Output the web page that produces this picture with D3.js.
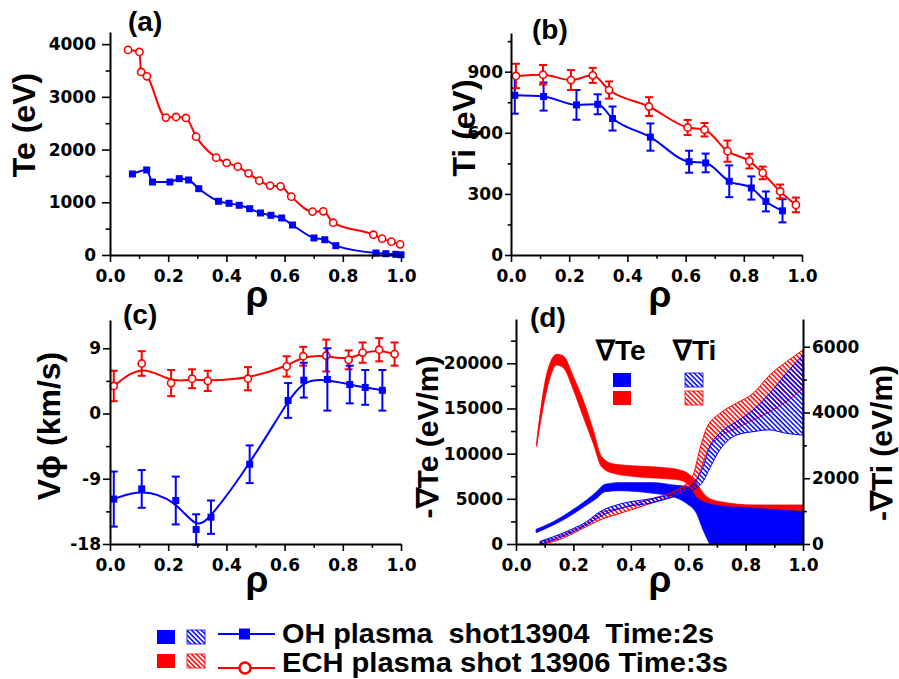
<!DOCTYPE html>
<html>
<head>
<meta charset="utf-8">
<script src="https://cdn.jsdelivr.net/npm/d3@7"></script>
<style>
  body { margin: 0; background: #fff; }
  svg { display: block; }
</style>
</head>
<body>
<svg id="fig" width="899" height="679"></svg>
<script>
// ---------- data ----------
// (a) electron temperature profiles
const rhoTeOH  = [0.077,0.126,0.146,0.206,0.238,0.270,0.305,0.373,0.409,0.444,0.480,0.517,0.553,0.590,0.627,0.701,0.738,0.776,0.914,0.948,0.982,1.0];
const teOH     = [1537,1613,1385,1385,1448,1423,1258,1019,981,943,879,797,753,702,569,323,290,177,38,25,13,5];
const rhoTeECH = [0.062,0.101,0.107,0.127,0.192,0.227,0.261,0.296,0.365,0.401,0.439,0.476,0.513,0.550,0.586,0.623,0.696,0.733,0.767,0.905,0.935,0.967,0.997];
const teECH    = [3890,3852,3472,3390,2606,2618,2600,2245,1847,1746,1676,1550,1410,1316,1303,1107,823,829,613,385,310,253,202];

// (b) ion temperature profiles with error bars
const rhoTiOH   = [0.013,0.112,0.225,0.298,0.349,0.479,0.612,0.669,0.750,0.826,0.876,0.933];
const tiOH      = [784,778,737,740,670,579,458,452,362,329,263,217];
const tiOHErr   = [90,69,73,49,59,67,54,46,78,57,49,57];
const rhoTiECH  = [0.017,0.110,0.206,0.281,0.337,0.474,0.607,0.665,0.744,0.819,0.865,0.925,0.979];
const tiECH     = [879,885,859,882,810,729,626,615,510,461,403,312,246];
const tiECHErr  = [60,48,49,37,42,46,37,33,52,36,31,34,36];

// (c) toroidal rotation profiles with error bars
const rhoVOH   = [0.013,0.109,0.226,0.296,0.347,0.480,0.612,0.666,0.747,0.824,0.877,0.936];
const vOH      = [-11.8,-10.4,-12.0,-16.0,-14.3,-7.0,1.8,4.6,4.7,4.0,3.6,3.2];
const vOHErr   = [3.8,2.6,3.3,2.1,2.3,2.6,2.4,2.4,4.3,2.6,2.4,2.8];
const rhoVECH  = [0.013,0.109,0.210,0.282,0.336,0.474,0.607,0.664,0.743,0.820,0.868,0.925,0.978];
const vECH     = [3.8,6.9,4.2,4.8,4.5,4.8,6.5,7.9,8.0,7.4,8.4,8.8,8.2];
const vECHErr  = [2.1,1.7,1.8,1.3,1.4,1.6,1.4,1.3,2.2,1.3,1.4,1.6,1.6];

// (d) gradient bands: upper / lower envelopes
const rhoGTeECH = [0.072,0.107,0.142,0.165,0.200,0.234,0.269,0.298,0.339,0.420,0.500,0.570,0.606,0.629,0.664,0.710,0.826,1.0];
const gTeECHHi  = [11300,18800,21000,20800,18520,15940,12620,9670,8860,8630,8490,8190,7640,6720,5240,4690,4320,4320];
const gTeECHLo  = [10800,17000,19800,19500,17050,14100,11140,8560,7820,7450,7270,7080,6350,5240,4610,4320,4060,3690];
const rhoGTeOH  = [0.070,0.130,0.188,0.246,0.281,0.310,0.362,0.478,0.548,0.594,0.629,0.652,0.675,0.710,0.826,1.0];
const gTeOHHi   = [1620,2470,3580,4870,5790,6600,6790,6790,6530,6350,5980,5240,4690,4320,4130,3690];
const gTeOHLo   = [1250,2100,3100,4320,5050,5790,5900,5610,5240,4500,3390,1550,0,-1500,-1500,-1500];
const rhoGTiECH = [0.084,0.130,0.188,0.246,0.292,0.362,0.478,0.570,0.617,0.640,0.664,0.710,0.768,0.826,0.884,0.942,1.0];
const gTiECHHi  = [70,170,375,630,930,1085,1390,1690,2100,2860,3520,3970,4280,4580,5140,5540,5900];
const gTiECHLo  = [0,70,275,530,730,930,1260,1560,1740,2150,2760,3260,3520,3770,4020,4330,4730];
const rhoGTiOH  = [0.084,0.130,0.188,0.246,0.292,0.362,0.478,0.570,0.617,0.652,0.675,0.710,0.768,0.826,0.884,0.942,1.0];
const gTiOHHi   = [80,220,425,680,980,1215,1390,1590,1845,2350,2960,3365,3720,4075,4580,5190,5750];
const gTiOHLo   = [0,120,325,580,830,1085,1260,1490,1640,1900,2300,2860,3310,3415,3470,3365,3310];

// tick values
const rhoMajor = [0,0.2,0.4,0.6,0.8,1.0];
const rhoMinor = [0.1,0.3,0.5,0.7,0.9];
const teMajor = [0,1000,2000,3000,4000];
const teMinor = [500,1500,2500,3500];
const tiMajor = [0,300,600,900];
const tiMinor = [150,450,750,1050];
const vMajor = [-18,-9,0,9];
const vMinor = [-13.5,-4.5,4.5];
const gTeMajor = [0,5000,10000,15000,20000];
const gTeMinor = [2500,7500,12500,17500,22500];
const gTiMajor = [0,2000,4000,6000];
const gTiMinor = [1000,3000,5000];

// legend texts
const seriesNames = ["OH plasma  shot13904  Time:2s", "ECH plasma shot 13906 Time:3s"];

// ---------- drawing ----------
const BLUE = "#0000ff", RED = "#ff0000";
const TICK_FONT = "'DejaVu Sans', sans-serif";
const LABEL_FONT = "'Liberation Sans', Arial, sans-serif";
const svg = d3.select("#fig");
const defs = svg.append("defs");

function hatch(id, color) {
  const p = defs.append("pattern").attr("id", id)
    .attr("patternUnits", "userSpaceOnUse")
    .attr("width", 3.4).attr("height", 3.4)
    .attr("patternTransform", "rotate(45)");
  p.append("rect").attr("width", 3.4).attr("height", 1.5).attr("fill", color);
}
hatch("hatchBlue", BLUE);
hatch("hatchRed", RED);

const zip = (xs, ys) => xs.map((x, i) => [x, ys[i]]);

function styleAxis(g) {
  g.attr("font-size", 17).attr("font-family", TICK_FONT).attr("font-weight", "bold");
  g.selectAll(".domain").attr("stroke", "#000").attr("stroke-width", 2);
  g.selectAll(".tick line").attr("stroke", "#000").attr("stroke-width", 1.6);
  g.selectAll(".tick text").attr("fill", "#000");
}

function drawAxis(orient, scale, pos, majors, minors, fmt, tlen, pad) {
  const mk = orient === "bottom" ? d3.axisBottom : orient === "left" ? d3.axisLeft : d3.axisRight;
  const tr = orient === "bottom" ? `translate(0,${pos})` : `translate(${pos},0)`;
  const gMin = svg.append("g").attr("transform", tr)
    .call(mk(scale).tickValues(minors).tickSize(tlen * 0.55).tickSizeOuter(0).tickFormat(""));
  gMin.select(".domain").remove();
  styleAxis(gMin);
  const gMaj = svg.append("g").attr("transform", tr)
    .call(mk(scale).tickValues(majors).tickSize(tlen).tickSizeOuter(0).tickPadding(pad).tickFormat(fmt));
  styleAxis(gMaj);
  return gMaj;
}

const fmtRho = d3.format(".1f");
const fmtInt = d => String(d);   // plain hyphen for negatives

function text(x, y, str, size, opts = {}) {
  const t = svg.append("text").attr("x", x).attr("y", y)
    .attr("font-family", opts.family || LABEL_FONT)
    .attr("font-weight", "bold").attr("font-size", size)
    .attr("fill", "#000").style("white-space", "pre")
    .attr("text-anchor", opts.anchor || "start").text(str);
  if (opts.rotate) t.attr("transform", `rotate(-90,${x},${y})`);
  if (opts.length) t.attr("textLength", opts.length).attr("lengthAdjust", "spacingAndGlyphs");
  return t;
}

function errorBars(g, x, y, xs, ys, es, color) {
  xs.forEach((r, i) => {
    const cx = x(r), y1 = y(ys[i] - es[i]), y2 = y(ys[i] + es[i]);
    g.append("line").attr("x1", cx).attr("x2", cx).attr("y1", y1).attr("y2", y2)
      .attr("stroke", color).attr("stroke-width", 2);
    [y1, y2].forEach(yy => g.append("line").attr("x1", cx - 4).attr("x2", cx + 4)
      .attr("y1", yy).attr("y2", yy).attr("stroke", color).attr("stroke-width", 2));
  });
}

function squares(g, x, y, xs, ys, size) {
  g.selectAll(null).data(zip(xs, ys)).join("rect")
    .attr("x", d => x(d[0]) - size / 2).attr("y", d => y(d[1]) - size / 2)
    .attr("width", size).attr("height", size).attr("fill", BLUE);
}
function circles(g, x, y, xs, ys, r) {
  g.selectAll(null).data(zip(xs, ys)).join("circle")
    .attr("cx", d => x(d[0])).attr("cy", d => y(d[1])).attr("r", r)
    .attr("fill", "#fff").attr("stroke", RED).attr("stroke-width", 1.6);
}
function curve(g, x, y, xs, ys, color, crv) {
  g.append("path").datum(zip(xs, ys))
    .attr("d", d3.line().x(d => x(d[0])).y(d => y(d[1])).curve(crv))
    .attr("fill", "none").attr("stroke", color).attr("stroke-width", 2);
}

// ---- panel (a) ----
{
  const x = d3.scaleLinear().domain([0, 1]).range([110, 401]);
  const y = d3.scaleLinear().domain([0, 4230]).range([255, 32]);
  const g = svg.append("g");
  curve(g, x, y, rhoTeOH, teOH, BLUE, d3.curveMonotoneX);
  squares(g, x, y, rhoTeOH, teOH, 7);
  curve(g, x, y, rhoTeECH, teECH, RED, d3.curveMonotoneX);
  circles(g, x, y, rhoTeECH, teECH, 3.6);
  drawAxis("bottom", x, 255, rhoMajor, rhoMinor, fmtRho, 7, 8);
  drawAxis("left", y, 110, teMajor, teMinor, fmtInt, 8, 6);
  text(128, 31, "(a)", 28);
  text(35, 125, "Te (eV)", 32, { anchor: "middle", rotate: true });
  text(257, 307, "ρ", 37, { anchor: "middle" });
}

// ---- panel (b) ----
{
  const x = d3.scaleLinear().domain([0, 1]).range([511, 802]);
  const y = d3.scaleLinear().domain([0, 1090]).range([255, 33]);
  const g = svg.append("g");
  curve(g, x, y, rhoTiOH, tiOH, BLUE, d3.curveMonotoneX);
  errorBars(g, x, y, rhoTiOH, tiOH, tiOHErr, BLUE);
  squares(g, x, y, rhoTiOH, tiOH, 7);
  curve(g, x, y, rhoTiECH, tiECH, RED, d3.curveMonotoneX);
  errorBars(g, x, y, rhoTiECH, tiECH, tiECHErr, RED);
  circles(g, x, y, rhoTiECH, tiECH, 3.6);
  drawAxis("bottom", x, 255, rhoMajor, rhoMinor, fmtRho, 7, 8);
  drawAxis("left", y, 511, tiMajor, tiMinor, fmtInt, 6, 2);
  text(532, 39, "(b)", 28);
  text(475, 128, "Ti (eV)", 32, { anchor: "middle", rotate: true });
  text(660, 307, "ρ", 37, { anchor: "middle" });
}

// ---- panel (c) ----
{
  const x = d3.scaleLinear().domain([0, 1]).range([110, 401]);
  const y = d3.scaleLinear().domain([-18, 12.9]).range([544, 320]);
  const g = svg.append("g");
  curve(g, x, y, rhoVECH, vECH, RED, d3.curveBasis);
  errorBars(g, x, y, rhoVECH, vECH, vECHErr, RED);
  circles(g, x, y, rhoVECH, vECH, 3.6);
  curve(g, x, y, rhoVOH, vOH, BLUE, d3.curveBasis);
  errorBars(g, x, y, rhoVOH, vOH, vOHErr, BLUE);
  squares(g, x, y, rhoVOH, vOH, 7);
  drawAxis("bottom", x, 544, rhoMajor, rhoMinor, fmtRho, 7, 8);
  drawAxis("left", y, 110, vMajor, vMinor, fmtInt, 7, 2);
  text(123, 324, "(c)", 28);
  text(60, 426, "Vϕ (km/s)", 32, { anchor: "middle", rotate: true });
  text(257, 592, "ρ", 37, { anchor: "middle" });
}

// ---- panel (d) ----
{
  const x = d3.scaleLinear().domain([0, 1]).range([516, 803]);
  const yL = d3.scaleLinear().domain([0, 24900]).range([544, 319]);
  const yR = d3.scaleLinear().domain([0, 6842]).range([544, 319]);
  defs.append("clipPath").attr("id", "clipD")
    .append("rect").attr("x", 516).attr("y", 319).attr("width", 287).attr("height", 225);
  const g = svg.append("g").attr("clip-path", "url(#clipD)");
  const band = (xs, hi, lo, y) => d3.area()
    .x((d, i) => x(xs[i])).y0((d, i) => y(lo[i])).y1((d, i) => y(hi[i]))
    .curve(d3.curveMonotoneX)(xs);
  g.append("path").attr("d", band(rhoGTeOH, gTeOHHi, gTeOHLo, yL))
    .attr("fill", BLUE).attr("stroke", BLUE).attr("stroke-width", 0.8);
  g.append("path").attr("d", band(rhoGTeECH, gTeECHHi, gTeECHLo, yL))
    .attr("fill", RED).attr("stroke", RED).attr("stroke-width", 0.8);
  g.append("path").attr("d", band(rhoGTiECH, gTiECHHi, gTiECHLo, yR))
    .attr("fill", "url(#hatchRed)").attr("stroke", RED).attr("stroke-width", 1);
  g.append("path").attr("d", band(rhoGTiOH, gTiOHHi, gTiOHLo, yR))
    .attr("fill", "url(#hatchBlue)").attr("stroke", BLUE).attr("stroke-width", 1);

  drawAxis("bottom", x, 544, rhoMajor, rhoMinor, fmtRho, 7, 8);
  drawAxis("left", yL, 516, gTeMajor, gTeMinor, fmtInt, 9, 4);
  drawAxis("right", yR, 803, gTiMajor, gTiMinor, fmtInt, 7, 2);
  text(530, 327, "(d)", 28);
  text(438, 437, "-∇Te (eV/m)", 30, { anchor: "middle", rotate: true });
  text(892, 443, "-∇Ti (eV/m)", 30, { anchor: "middle", rotate: true });
  text(660, 592, "ρ", 37, { anchor: "middle" });

  // inner key for the gradient bands
  text(596, 360, "∇Te", 28);
  text(673, 360, "∇Ti", 28);
  svg.append("rect").attr("x", 613).attr("y", 373).attr("width", 18).attr("height", 14).attr("fill", BLUE);
  svg.append("rect").attr("x", 613).attr("y", 391).attr("width", 18).attr("height", 14).attr("fill", RED);
  svg.append("rect").attr("x", 685).attr("y", 373).attr("width", 18).attr("height", 14)
    .attr("fill", "url(#hatchBlue)").attr("stroke", BLUE).attr("stroke-width", 0.8);
  svg.append("rect").attr("x", 685).attr("y", 391).attr("width", 18).attr("height", 14)
    .attr("fill", "url(#hatchRed)").attr("stroke", RED).attr("stroke-width", 0.8);
}

// ---- bottom legend ----
{
  const rows = [
    { y: 630, color: BLUE, hatchId: "hatchBlue", lineY: 634, text: seriesNames[0], base: 643, len: 432 },
    { y: 654, color: RED, hatchId: "hatchRed", lineY: 668, text: seriesNames[1], base: 672, len: 446 }
  ];
  rows.forEach((r, i) => {
    svg.append("rect").attr("x", 157).attr("y", r.y).attr("width", 18).attr("height", 14).attr("fill", r.color);
    svg.append("rect").attr("x", 187).attr("y", r.y).attr("width", 18).attr("height", 14)
      .attr("fill", `url(#${r.hatchId})`).attr("stroke", r.color).attr("stroke-width", 0.8);
    svg.append("line").attr("x1", 218).attr("x2", 275).attr("y1", r.lineY).attr("y2", r.lineY)
      .attr("stroke", r.color).attr("stroke-width", 2);
    if (i === 0) {
      svg.append("rect").attr("x", 239).attr("y", r.lineY - 5.5).attr("width", 11).attr("height", 11).attr("fill", BLUE);
    } else {
      svg.append("circle").attr("cx", 245).attr("cy", r.lineY).attr("r", 5.5)
        .attr("fill", "#fff").attr("stroke", RED).attr("stroke-width", 2.5);
    }
    text(282, r.base, r.text, 27, { length: r.len });
  });
}
</script>
</body>
</html>
